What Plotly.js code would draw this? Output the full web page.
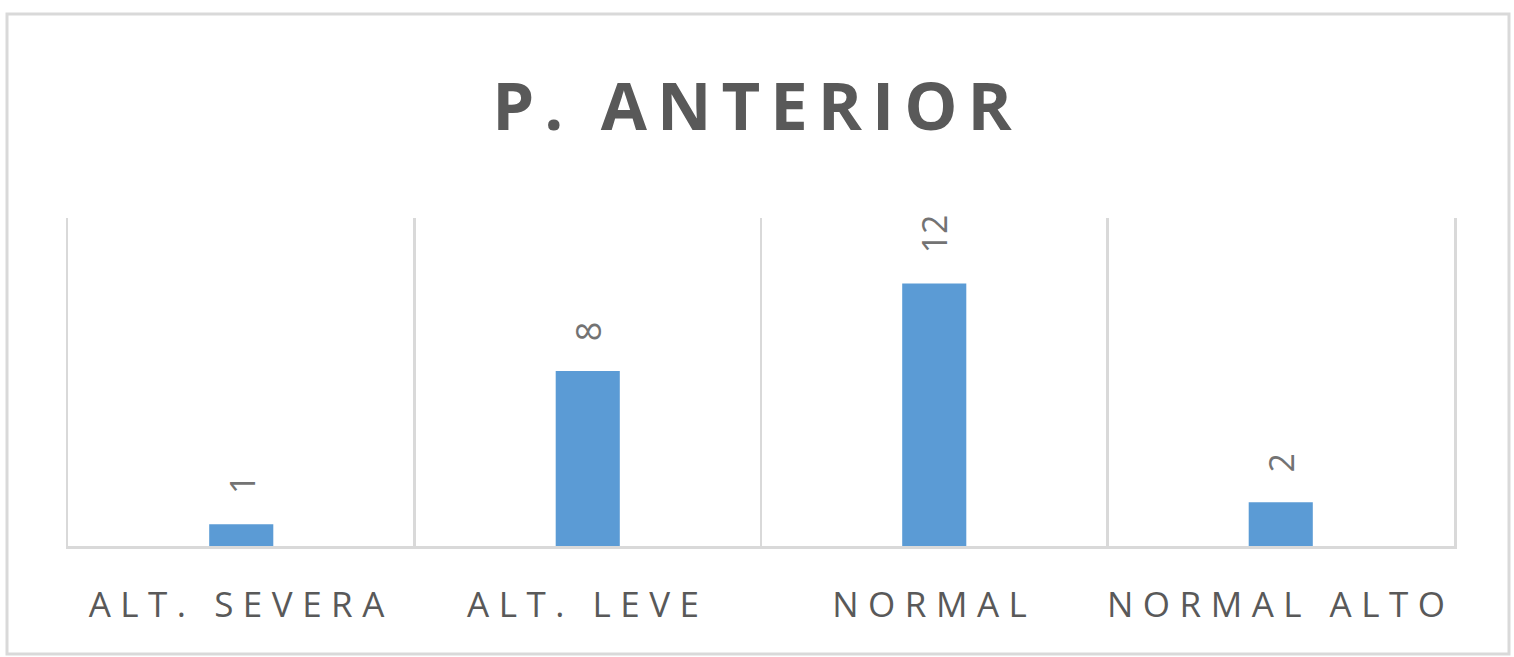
<!DOCTYPE html>
<html>
<head>
<meta charset="utf-8">
<script src="https://cdn.plot.ly/plotly-3.0.1.min.js"></script>
<style>
html,body{margin:0;padding:0;background:#fff;}
#chart{width:1514px;height:657px;}
#chart .xtick text{letter-spacing:9.5px;}
#chart .gtitle{letter-spacing:10px;}
</style>
</head>
<body>
<div id="chart"></div>
<script>
const categories = ["ALT. SEVERA", "ALT. LEVE", "NORMAL", "NORMAL ALTO"];
const values = [1, 8, 12, 2];
const valueLabels = values.map(String);

const trace = {
  type: "bar",
  x: categories,
  y: values,
  width: 0.185,
  marker: {color: "#5B9BD5"},
  hoverinfo: "x+y"
};

const annotations = categories.map((c, i) => ({
  x: c, y: values[i], xref: "x", yref: "y",
  text: valueLabels[i], textangle: -90, showarrow: false,
  yanchor: "bottom", xanchor: "center", yshift: 28,
  font: {family: "Open Sans, sans-serif", size: 34, color: "#737373"}
}));

const layout = {
  width: 1514, height: 657,
  margin: {l: 68, r: 60, t: 218, b: 111},
  paper_bgcolor: "#ffffff", plot_bgcolor: "#ffffff",
  showlegend: false,
  title: {
    text: "<b>P. ANTERIOR</b>",
    font: {family: "Open Sans, sans-serif", size: 67, color: "#595959"},
    x: 0.5, xref: "container", xanchor: "center",
    y: 1 - 107/657, yref: "container", yanchor: "middle"
  },
  xaxis: {
    type: "category",
    range: [-0.5, 3.5],
    tickson: "boundaries",
    showgrid: true, gridcolor: "#d9d9d9", gridwidth: 2.5,
    showline: true, linecolor: "#d9d9d9", linewidth: 2.5,
    ticks: "", ticklabelstandoff: 26,
    tickfont: {family: "Open Sans, sans-serif", size: 35, color: "#595959"},
    fixedrange: true
  },
  yaxis: {
    range: [0, 15],
    showgrid: false, zeroline: false,
    showticklabels: false, ticks: "",
    showline: true, mirror: true, linecolor: "#d9d9d9", linewidth: 2.5,
    fixedrange: true
  },
  annotations: annotations,
  shapes: [{
    type: "rect", xref: "paper", yref: "paper",
    x0: (7 - 68)/1386, x1: (1509 - 68)/1386,
    y0: (546 - 654)/328, y1: (546 - 14)/328,
    line: {color: "#d9d9d9", width: 3}, fillcolor: "rgba(0,0,0,0)", layer: "below"
  }]
};

Plotly.newPlot("chart", [trace], layout, {displayModeBar: false, staticPlot: true});
</script>
</body>
</html>
